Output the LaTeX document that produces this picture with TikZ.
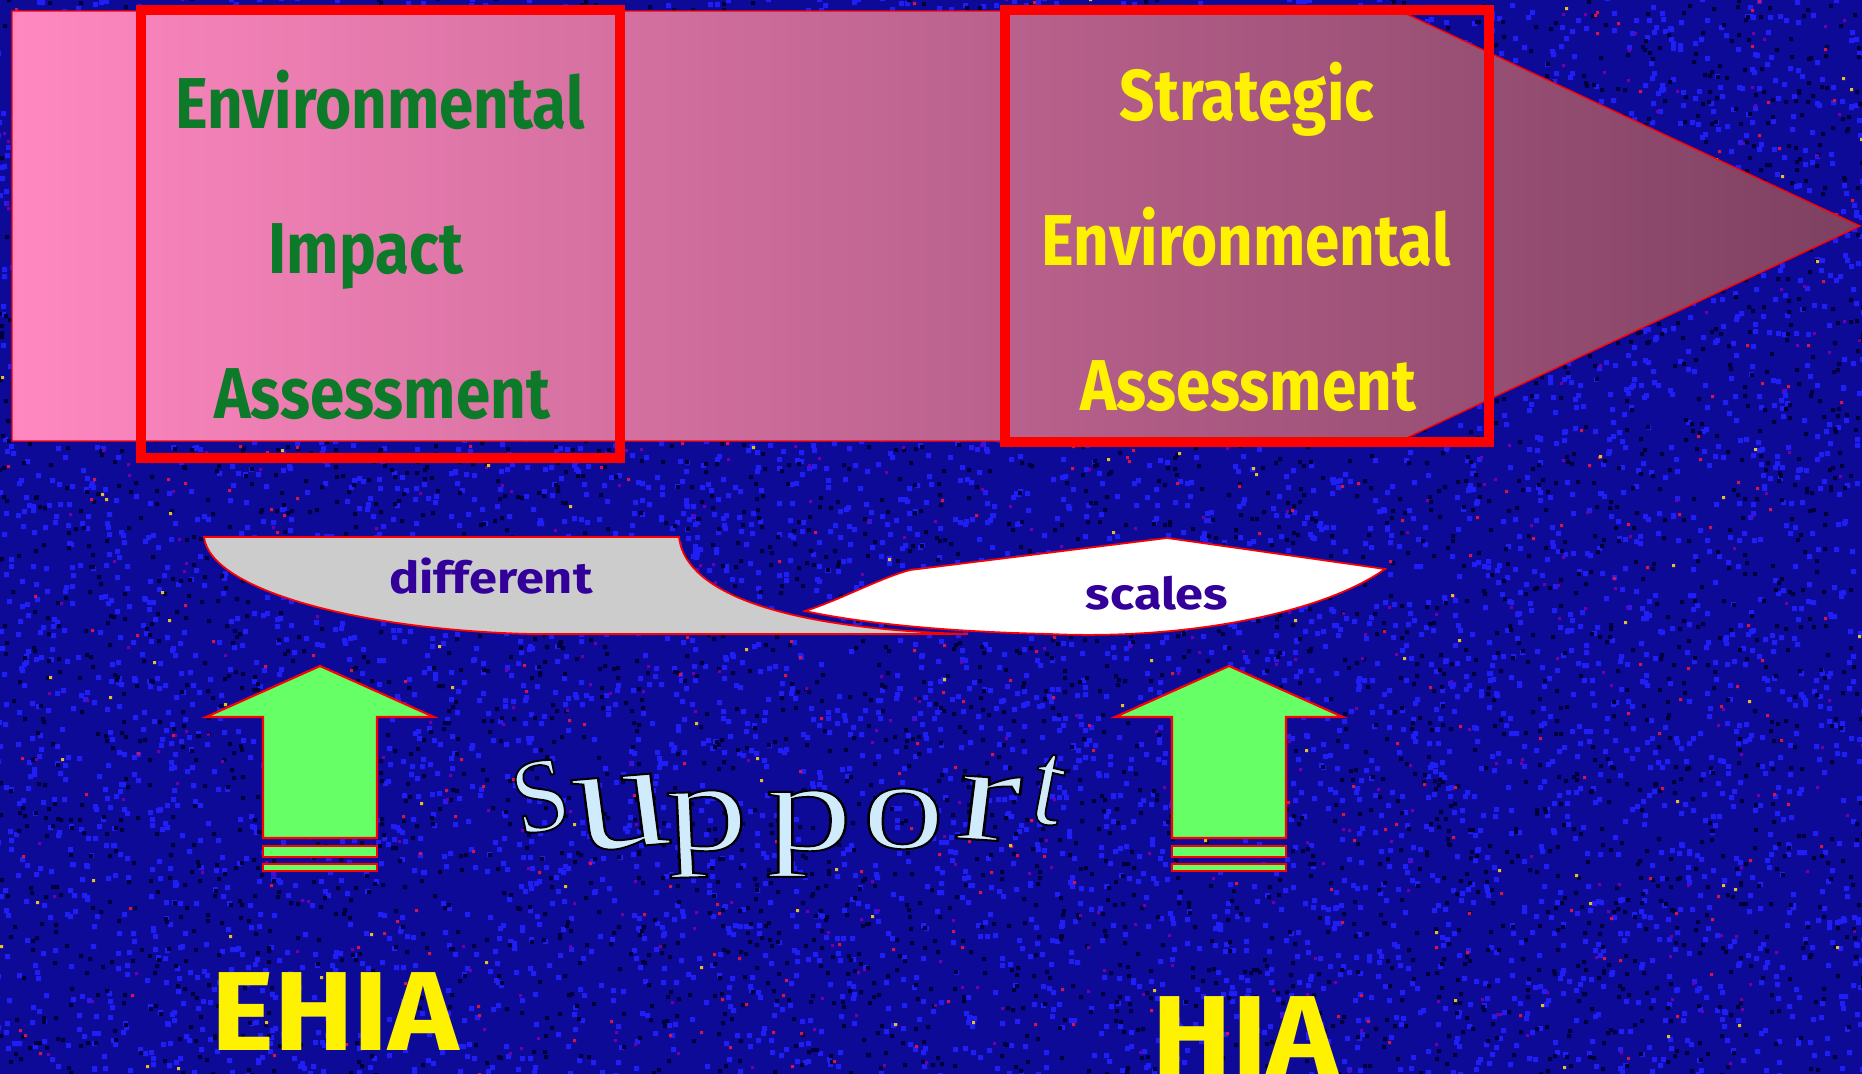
\documentclass[tikz,border=0pt]{standalone}
\usepackage{fontspec}
\setmainfont{Fira Sans}
\newfontfamily\supfont{Liberation Serif}

\definecolor{bgnavy}{RGB}{14,10,152}
\definecolor{bgblue}{RGB}{30,30,245}
\definecolor{bgdark}{RGB}{0,0,60}
\definecolor{bgpurple}{RGB}{110,0,170}
\definecolor{speckred}{RGB}{215,20,70}
\definecolor{speckyel}{RGB}{230,190,40}
\definecolor{pinkL}{RGB}{255,136,192}
\definecolor{pinkR}{RGB}{125,64,96}
\definecolor{eiagreen}{RGB}{12,122,40}
\definecolor{scalepurple}{RGB}{51,0,153}
\definecolor{arrowgreen}{RGB}{102,255,102}
\definecolor{ribbongray}{RGB}{204,204,204}
\definecolor{supblue}{RGB}{208,236,252}

% outlined glyphs: fill with the text colour, stroke in black
\newcommand\outlined[1]{\special{pdf:literal direct 2 Tr 1.1 w 0 G}#1\special{pdf:literal direct 0 Tr}}

\tikzset{
  redframe/.style={draw=red, line width=5.7pt},
  bigtxt/.style={font=\bfseries\fontsize{41}{49}\selectfont, inner sep=0pt, anchor=base, xscale=0.86, transform shape},
  eiatxt/.style={bigtxt, text=eiagreen},
  seatxt/.style={bigtxt, text=yellow},
  ribbontxt/.style={font=\bfseries\fontsize{25}{30}\selectfont, text=scalepurple, inner sep=0pt, anchor=base, xscale=1.15, transform shape},
  labeltxt/.style={font=\bfseries\fontsize{64}{76}\selectfont, text=yellow, inner sep=0pt, anchor=base, xscale=1.06, transform shape},
  uparrow/.style={fill=arrowgreen, draw=red, line width=1.2pt},
  ribbon/.style={draw=red, line width=1pt}
}

\begin{document}
\begin{tikzpicture}[x=0.02cm,y=-0.02cm]
\useasboundingbox (0,0) rectangle (1862,1073);

% speckled background
\fill[bgnavy] (-4,-4) rectangle (1866,1077);
\pgfmathsetseed{11}
\foreach \col/\n/\sz in {bgblue/44/5, bgdark/30/4, bgpurple/4/3, speckred/3/3, speckyel/1/3}{
  \foreach \j in {1,...,\n}{
    \fill[\col] \foreach \i in {1,...,150}{
      ({random(0,1866)-4},{random(0,1077)-4}) rectangle ++(\sz,\sz)};
  }
}

% the big arrow
\draw[red, line width=0.8pt, left color=pinkL, right color=pinkR]
  (12,11) -- (1400,11) -- (1860,226) -- (1400,441) -- (12,441) -- cycle;
\draw[redframe] (141,10) rectangle (620,458);
\draw[redframe] (1005,10) rectangle (1489,442);

\node[eiatxt] (eia1) at (380,128) {Environmental};
\node[eiatxt] (eia2) at (366,273) {Impact};
\node[eiatxt] (eia3) at (382,418) {Assessment};
\node[seatxt] (sea1) at (1247,120) {Strategic};
\node[seatxt] (sea2) at (1246,265) {Environmental};
\node[seatxt] (sea3) at (1248,410) {Assessment};

% ribbon
\draw[ribbon, fill=ribbongray] (204,537) -- (679,537)
  .. controls (684,585) and (760,628) .. (968,634) -- (532,634)
  .. controls (360,630) and (210,590) .. (204,537) -- cycle;
\draw[ribbon, fill=white] (805,611) .. controls (840,600) and (880,578) .. (910,570)
  -- (1167,538) -- (1385,569) .. controls (1320,615) and (1180,640) .. (1050,634)
  .. controls (960,632) and (870,625) .. (805,611) -- cycle;
\node[ribbontxt] (diff) at (491,593) {different};
\node[ribbontxt] (scal) at (1157,609) {scales};

% green arrows
\foreach \cx in {320,1229}{
  \draw[uparrow] (\cx,666) -- (\cx+114,717) -- (\cx+57,717) -- (\cx+57,838)
    -- (\cx-57,838) -- (\cx-57,717) -- (\cx-114,717) -- cycle;
  \draw[uparrow] (\cx-57,846) rectangle (\cx+57,857);
  \draw[uparrow] (\cx-57,864) rectangle (\cx+57,871);
}

% Support
\foreach \ch/\x/\y/\fs/\xs/\rot [count=\k] in
  {S/547/830/60/0.95/12, u/626/847/88/1.25/6, p/708/850/72/1.3/2,
   p/809/850/72/1.38/0, o/902/848/72/1.3/-2, r/984/840/78/1.4/-5,
   t/1042/823/70/0.9/-12}{
  \node[inner sep=0pt, anchor=base, xscale=\xs, rotate=\rot, transform shape,
    font=\supfont\fontsize{\fs}{\fs}\selectfont, text=supblue]
    (sup\k) at (\x,\y) {\outlined{\ch}};
}

\node[labeltxt] (ehia) at (335,1050) {EHIA};
\node[labeltxt] (hia) at (1245,1074) {HIA};
\end{tikzpicture}
\end{document}
